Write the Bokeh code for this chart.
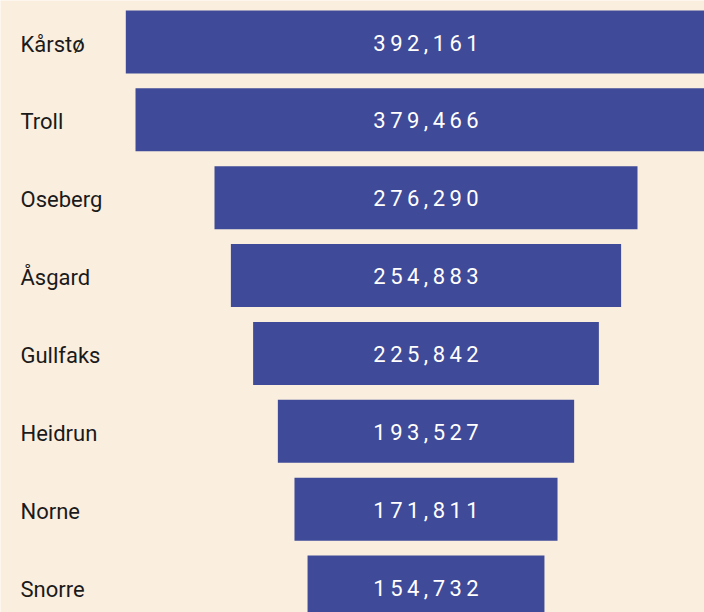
from bokeh.plotting import figure
from bokeh.models import Range1d, ColumnDataSource
from bokeh.core.properties import value
from bokeh.embed import file_html
from bokeh.resources import INLINE

names = ["Kårstø", "Troll", "Oseberg", "Åsgard", "Gullfaks", "Heidrun", "Norne", "Snorre"]
volumes = [392161, 379466, 276290, 254883, 225842, 193527, 171811, 154732]

W, H = 704, 612
BG = "#FAEEDF"
BAR = "#3F4A98"

center_px = 425.5
px_per_unit = 0.001531
x_start = -center_px / px_per_unit
x_end = (W - center_px) / px_per_unit
row_px = 77.86
top_px = 41.5
y_end = -top_px / row_px
y_start = y_end + H / row_px

idx = list(range(len(names)))
src = ColumnDataSource(dict(
    y=idx,
    left=[-v / 2 for v in volumes],
    right=[v / 2 for v in volumes],
    name=names,
    lx=[x_start + 20 / px_per_unit] * len(names),
    cx=[0] * len(names),
    vlabel=["\u2009".join(f"{v:,}") for v in volumes],
))

p = figure(width=W, height=H, output_backend="svg", toolbar_location=None,
           x_range=Range1d(x_start, x_end), y_range=Range1d(y_start, y_end),
           min_border=0, background_fill_color=BG, border_fill_color=BG)
p.axis.visible = False
p.grid.visible = False
p.outline_line_color = None

p.hbar(y="y", left="left", right="right", height=63 / row_px, source=src,
       fill_color=BAR, line_color=None)
p.text(x="lx", y="y", text="name", source=src, text_font=value("Roboto"),
       text_font_size="22px", text_color="#1A1A1A", text_align="left",
       text_baseline="middle", y_offset=2)
p.text(x="cx", y="y", text="vlabel", source=src, text_font=value("Roboto"),
       text_font_size="22px", text_color="#FFFFFF", text_align="center",
       text_baseline="middle", y_offset=1)

open("out.html", "w").write(file_html(p, INLINE))
